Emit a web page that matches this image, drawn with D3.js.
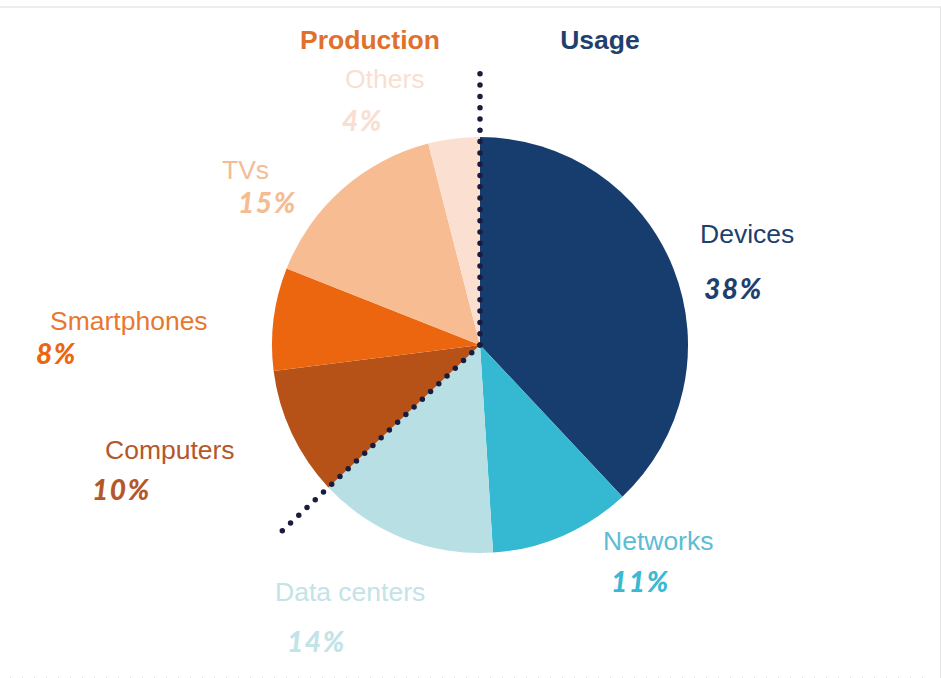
<!DOCTYPE html>
<html>
<head>
<meta charset="utf-8">
<script src="https://cdn.jsdelivr.net/npm/d3@7"></script>
<style>
  html, body { margin: 0; padding: 0; background: #fff; }
  svg { display: block; }
</style>
</head>
<body>
<svg id="chart" width="941" height="678"></svg>
<script>
// ---- data ----
const categories = ["Devices", "Networks", "Data centers", "Computers", "Smartphones", "TVs", "Others"];
const values = [38, 11, 14, 10, 8, 15, 4];
const groups = ["Usage", "Usage", "Usage", "Production", "Production", "Production", "Production"];
const headers = ["Production", "Usage"];

// ---- styles / layout ----
const sliceColors = ["#173d6e", "#35b9d3", "#b8dfe4", "#b65118", "#ec6610", "#f7bc92", "#fbe0d2"];
const labelColors = ["#1f3f6e", "#5cbcd5", "#c2e3e7", "#b4582a", "#e8782f", "#f3bc95", "#f8dfd2"];
const pctColors   = ["#1f3f6e", "#3bb9d3", "#c2e3e7", "#b4582a", "#ec6610", "#f5bc92", "#f8dfd2"];
const headerColors = ["#e0702c", "#1f3f6e"];
// label anchor points (name baseline, pct baseline)
const nameX = [700, 603, 275, 105, 50, 222, 345];
const nameY = [243, 550, 601, 459, 330, 179, 88];
const pctX  = [704, 611, 287, 92, 36, 238, 342];
const pctY  = [299, 592, 652, 500, 364, 213, 131];
const headerX = [370, 600];
const headerY = [49, 49];

const W = 941, H = 678;
const cx = 480, cy = 345, R = 208;
const svg = d3.select("#chart");

// frame lines
svg.append("line").attr("x1", 0).attr("x2", W).attr("y1", 7).attr("y2", 7)
  .attr("stroke", "#ededed").attr("stroke-width", 2);
svg.append("line").attr("x1", 940.5).attr("x2", 940.5).attr("y1", 7).attr("y2", H)
  .attr("stroke", "#e4e4e4").attr("stroke-width", 1);
svg.append("line").attr("x1", 10).attr("x2", 930).attr("y1", 677.5).attr("y2", 677.5)
  .attr("stroke", "#e0e0e0").attr("stroke-width", 1).attr("stroke-dasharray", "1 11");

const pie = d3.pie().sort(null).value(d => d.value).startAngle(0).endAngle(2 * Math.PI);
const data = categories.map((c, i) => ({ name: c, value: values[i], group: groups[i], i }));
const arcs = pie(data);
const arc = d3.arc().innerRadius(0).outerRadius(R);

const g = svg.append("g").attr("transform", `translate(${cx},${cy})`);
g.selectAll("path.slice").data(arcs).enter().append("path")
  .attr("class", "slice")
  .attr("d", arc)
  .attr("fill", d => sliceColors[d.data.i]);

// dotted divider lines between Production and Usage
const usageEnd = arcs[categories.indexOf("Data centers")].endAngle;
const L = 272;
[0, usageEnd].forEach(a => {
  g.append("line")
    .attr("x1", 0).attr("y1", 0)
    .attr("x2", L * Math.sin(a)).attr("y2", -L * Math.cos(a))
    .attr("stroke", "#1b1b3d").attr("stroke-width", 5.5)
    .attr("stroke-linecap", "round").attr("stroke-dasharray", "0 11.3");
});

// headers
svg.selectAll("text.header").data(headers).enter().append("text")
  .attr("class", "header")
  .attr("x", (d, i) => headerX[i]).attr("y", (d, i) => headerY[i])
  .attr("text-anchor", "middle")
  .attr("font-family", "Liberation Sans, Arial, sans-serif")
  .attr("font-weight", "bold").attr("font-size", 26.5)
  .attr("fill", (d, i) => headerColors[i])
  .text(d => d);

// labels
const lab = svg.append("g");
lab.selectAll("text.name").data(data).enter().append("text")
  .attr("class", "name")
  .attr("x", d => nameX[d.i]).attr("y", d => nameY[d.i])
  .attr("font-family", "Liberation Sans, Arial, sans-serif")
  .attr("font-size", 26.5)
  .attr("fill", d => labelColors[d.i])
  .text(d => d.name);
lab.selectAll("text.pct").data(data).enter().append("text")
  .attr("class", "pct")
  .attr("x", d => pctX[d.i]).attr("y", d => pctY[d.i])
  .attr("font-family", "Lato, sans-serif")
  .attr("font-weight", 900).attr("font-style", "italic")
  .attr("font-size", 28).attr("letter-spacing", 1.6)
  .attr("fill", d => pctColors[d.i])
  .text(d => d.value + "%");
</script>
</body>
</html>
